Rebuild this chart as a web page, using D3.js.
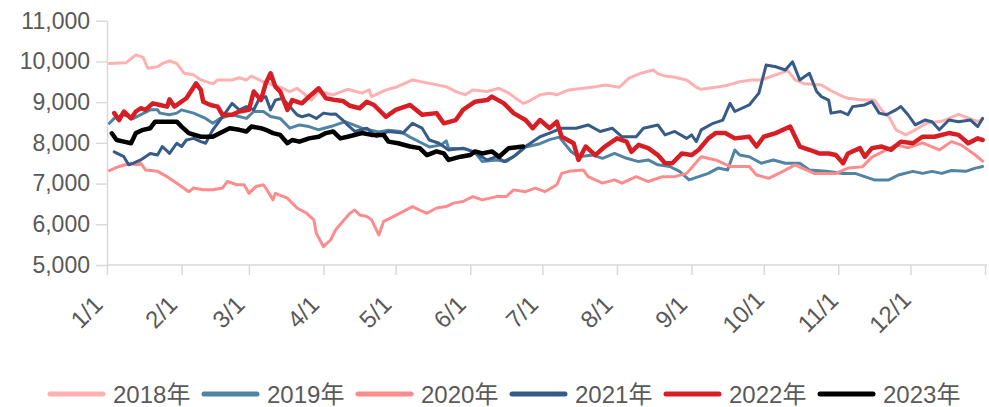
<!DOCTYPE html>
<html>
<head>
<meta charset="utf-8">
<script src="https://cdn.jsdelivr.net/npm/d3@7"></script>
<style>
  html, body { margin: 0; padding: 0; background: #fff; }
  svg { display: block; }
  text { font-family: "Liberation Sans", "Noto Sans CJK SC", sans-serif; fill: #595959; }
</style>
</head>
<body>
<svg id="chart" width="989" height="407"></svg>
<script>
// Daily price series, one per year: [day of year (0 = Jan 1), value]
const series2018 = [[1,9950],[8,9970],[12,10160],[15,10100],[17,9830],[21,9870],[23,9950],[26,10010],[29,9950],[32,9710],[36,9670],[39,9545],[44,9450],[46,9545],[52,9545],[55,9600],[58,9545],[60,9640],[65,9500],[73,9340],[76,9260],[79,9340],[82,9200],[85,9050],[88,9260],[94,9180],[100,9315],[106,9220],[109,9300],[110,9135],[116,9300],[120,9365],[127,9545],[134,9460],[141,9380],[145,9260],[149,9180],[152,9300],[158,9260],[163,9340],[167,9220],[173,8970],[175,9010],[180,9180],[184,9220],[187,9180],[192,9300],[198,9340],[203,9380],[207,9420],[213,9365],[217,9590],[222,9710],[227,9790],[229,9700],[232,9640],[236,9610],[241,9545],[245,9365],[247,9315],[253,9365],[257,9400],[263,9500],[268,9545],[272,9545],[283,9775],[286,9545],[290,9450],[297,9420],[301,9280],[306,9135],[308,9095],[314,9050],[319,9050],[322,8810],[325,8645],[328,8320],[332,8195],[336,8320],[341,8490],[347,8530],[354,8700],[358,8610],[362,8520],[364,8600]];
const series2019 = [[1,8480],[3,8600],[7,8690],[11,8600],[14,8690],[18,8810],[21,8810],[22,8730],[26,8690],[29,8730],[31,8810],[36,8730],[41,8600],[44,8480],[47,8600],[52,8690],[58,8600],[61,8770],[65,8770],[68,8645],[72,8600],[76,8360],[80,8440],[84,8400],[88,8320],[93,8400],[99,8520],[106,8360],[113,8270],[117,8310],[122,8280],[126,8140],[130,8020],[134,7900],[139,7950],[141,8050],[142,7870],[149,7850],[153,7760],[156,7540],[162,7580],[166,7540],[170,7700],[174,7900],[180,7980],[184,8080],[188,8140],[193,7780],[196,7660],[202,7700],[206,7620],[211,7740],[216,7620],[221,7540],[225,7580],[229,7460],[234,7420],[238,7300],[242,7090],[246,7170],[250,7250],[254,7380],[258,7335],[261,7826],[263,7700],[267,7660],[272,7500],[277,7580],[282,7500],[288,7500],[292,7335],[299,7300],[306,7250],[311,7250],[315,7170],[319,7090],[325,7090],[329,7210],[335,7300],[339,7250],[343,7300],[347,7250],[351,7320],[357,7300],[361,7380],[364,7420]];
const series2020 = [[1,7320],[5,7420],[10,7500],[12,7460],[14,7500],[16,7335],[21,7300],[25,7170],[29,7010],[34,6800],[36,6890],[40,6850],[44,6850],[48,6890],[50,7050],[54,6970],[57,6970],[59,6760],[62,6930],[65,6970],[66,6890],[69,6600],[70,6760],[75,6640],[77,6520],[79,6400],[83,6270],[86,6110],[87,5780],[90,5450],[93,5620],[95,5860],[98,6070],[101,6270],[103,6350],[105,6230],[108,6190],[110,6110],[113,5740],[115,6070],[119,6190],[123,6310],[127,6435],[130,6350],[133,6270],[137,6400],[141,6435],[144,6520],[148,6560],[152,6680],[156,6600],[162,6680],[166,6680],[169,6845],[174,6800],[178,6890],[182,6800],[187,6970],[189,7250],[192,7300],[198,7335],[200,7170],[206,7010],[211,7090],[214,7010],[220,7170],[225,7050],[231,7170],[236,7170],[241,7250],[247,7660],[253,7580],[259,7420],[263,7420],[267,7420],[270,7210],[275,7130],[281,7300],[286,7460],[289,7380],[294,7250],[303,7250],[308,7380],[314,7410],[318,7650],[324,7827],[328,7950],[333,7880],[339,8000],[346,7827],[351,8030],[355,7950],[361,7700],[364,7550]];
const series2021 = [[3,7780],[7,7660],[9,7460],[11,7500],[14,7580],[16,7660],[18,7740],[21,7700],[23,7910],[26,7740],[29,7990],[31,7910],[33,8070],[36,8110],[39,8030],[41,7990],[44,8320],[48,8640],[52,8970],[55,8810],[58,8890],[61,8810],[63,9050],[66,9135],[68,8810],[70,9050],[73,9095],[76,8890],[79,8690],[81,8640],[84,8690],[87,8600],[90,8730],[93,8700],[95,8710],[98,8560],[100,8440],[103,8280],[108,8360],[112,8150],[117,8280],[123,8240],[127,8480],[131,8360],[134,8070],[138,7990],[142,7826],[148,7870],[152,7790],[158,7580],[162,7660],[165,7540],[169,7660],[174,7910],[180,8150],[184,8240],[189,8360],[195,8360],[200,8440],[205,8280],[210,8360],[214,8150],[220,8150],[223,8360],[229,8440],[232,8195],[236,8280],[241,8110],[243,8195],[245,8030],[247,8320],[252,8480],[256,8560],[259,8970],[261,8770],[267,8930],[271,9220],[274,9910],[278,9870],[282,9790],[285,9990],[288,9545],[292,9710],[295,9260],[297,9135],[300,9050],[301,8730],[305,8770],[308,8690],[310,8890],[315,8930],[318,9010],[321,8730],[324,8690],[328,8810],[330,8890],[333,8690],[336,8440],[340,8560],[343,8520],[346,8320],[350,8560],[354,8520],[359,8560],[362,8400],[364,8600]];
const series2022 = [[3,8730],[5,8560],[7,8770],[10,8600],[12,8770],[14,8850],[16,8810],[19,8970],[22,8930],[25,8890],[26,9070],[28,8890],[33,9095],[37,9460],[39,9300],[40,9010],[43,8930],[46,8890],[48,8690],[52,8690],[55,8770],[59,8810],[61,9260],[64,9050],[66,9460],[68,9710],[70,9380],[72,9260],[75,8810],[77,9050],[81,8970],[84,9135],[88,9340],[91,9095],[95,9050],[98,9030],[101,8910],[105,8850],[108,9010],[111,8930],[116,8640],[120,8810],[126,8930],[131,8690],[137,8730],[140,8480],[145,8560],[148,8810],[153,9010],[158,9050],[160,9135],[165,8970],[169,8730],[174,8560],[177,8360],[180,8560],[184,8360],[187,8520],[189,8150],[194,7990],[196,7580],[199,7910],[203,7700],[207,7910],[212,8110],[216,8030],[218,7780],[221,7950],[225,7870],[229,7700],[232,7500],[235,7500],[239,7740],[243,7700],[246,7830],[250,8110],[253,8240],[257,8240],[261,8110],[267,8150],[270,7910],[273,8150],[278,8240],[284,8400],[288,7910],[292,7830],[296,7740],[300,7740],[303,7700],[306,7500],[308,7740],[313,7870],[315,7660],[318,7870],[322,7910],[326,7830],[330,8030],[335,7990],[339,8150],[344,8150],[350,8240],[354,8195],[358,7990],[362,8110],[364,8070]];
const series2023 = [[2,8235],[4,8070],[7,8030],[10,7990],[12,8240],[15,8320],[18,8360],[20,8520],[25,8520],[29,8520],[31,8400],[34,8240],[39,8150],[44,8150],[47,8240],[51,8360],[55,8320],[58,8280],[60,8400],[64,8360],[66,8320],[69,8240],[72,8195],[75,7990],[77,8070],[80,8030],[84,8110],[88,8150],[91,8240],[94,8280],[97,8110],[100,8150],[106,8240],[110,8195],[115,8195],[117,8030],[121,7990],[126,7910],[130,7870],[133,7700],[137,7790],[140,7740],[142,7580],[147,7660],[151,7700],[153,7790],[156,7740],[160,7790],[163,7660],[167,7870],[173,7910]];

const seriesNames = ["2018年", "2019年", "2020年", "2021年", "2022年", "2023年"];
const seriesColors = ["#ffb0b0", "#5183a3", "#ff8c8c", "#365b89", "#d81e25", "#000000"];
const seriesWidths = [3, 3, 3, 3, 4.5, 4.5];
const yTicks = [5000, 6000, 7000, 8000, 9000, 10000, 11000];
const monthLabels = ["1/1", "2/1", "3/1", "4/1", "5/1", "6/1", "7/1", "8/1", "9/1", "10/1", "11/1", "12/1"];

const allSeries = [series2018, series2019, series2020, series2021, series2022, series2023];

const svg = d3.select("#chart");
const plot = { left: 107, right: 985, top: 20.7, bottom: 265 };

// Every year is laid onto one common calendar year
const yearStart = new Date(2001, 0, 1);
const yearEnd = new Date(2002, 0, 1);
const toDate = d => new Date(yearStart.getTime() + d * 864e5);

const x = d3.scaleTime().domain([yearStart, yearEnd]).range([plot.left, plot.right]);
const y = d3.scaleLinear().domain([5000, 11000]).range([plot.bottom, plot.top]);

const axisColor = "#d9d9d9";
const fontStack = '"Liberation Sans", "Noto Sans CJK SC", sans-serif';

// Y axis
const yAxis = svg.append("g")
  .attr("transform", `translate(${plot.left},0)`)
  .call(d3.axisLeft(y).tickValues(yTicks).tickFormat(d3.format(",")).tickSize(11).tickSizeOuter(0).tickPadding(6));
yAxis.select(".domain").attr("stroke", axisColor).attr("stroke-width", 1.5);
yAxis.selectAll(".tick line").attr("stroke", axisColor).attr("stroke-width", 1.5);
yAxis.selectAll(".tick text").attr("font-size", 23).attr("fill", "#595959")
  .style("font-family", fontStack);

// X axis: month starts plus the closing tick at year end
const monthStarts = d3.timeMonth.range(yearStart, yearEnd);
const xTickValues = monthStarts.concat([yearEnd]);
const xAxis = svg.append("g")
  .attr("transform", `translate(0,${plot.bottom})`)
  .call(d3.axisBottom(x).tickValues(xTickValues).tickSize(10).tickSizeOuter(0)
    .tickFormat((d, i) => i < monthLabels.length ? monthLabels[i] : ""));
xAxis.select(".domain").remove();
xAxis.append("line").attr("x1", plot.left).attr("x2", 987).attr("y1", 0).attr("y2", 0)
  .attr("stroke", axisColor).attr("stroke-width", 1.5);
xAxis.selectAll(".tick line").attr("stroke", axisColor).attr("stroke-width", 1.5);
xAxis.selectAll(".tick text")
  .attr("font-size", 24).attr("fill", "#595959")
  .style("font-family", fontStack)
  .attr("x", 0).attr("y", 0).attr("dy", "0.35em")
  .attr("text-anchor", "middle")
  .attr("transform", "translate(-21,47) rotate(-45)");

// Lines
const line = d3.line()
  .x(d => x(toDate(d[0])))
  .y(d => y(d[1]));

svg.append("g").selectAll("path")
  .data(allSeries)
  .join("path")
  .attr("d", line)
  .attr("fill", "none")
  .attr("stroke", (d, i) => seriesColors[i])
  .attr("stroke-width", (d, i) => seriesWidths[i])
  .attr("stroke-linejoin", "round")
  .attr("stroke-linecap", "round");

// Legend
const legend = svg.append("g").attr("transform", "translate(48,394)");
const item = legend.selectAll("g")
  .data(seriesNames)
  .join("g")
  .attr("transform", (d, i) => `translate(${i * 154},0)`);
item.append("line")
  .attr("x1", 2).attr("x2", 55).attr("y1", 0).attr("y2", 0)
  .attr("stroke", (d, i) => seriesColors[i])
  .attr("stroke-width", 5)
  .attr("stroke-linecap", "round");
item.append("text")
  .attr("x", 65).attr("y", 0).attr("dy", "0.36em")
  .attr("font-size", 24)
  .text(d => d);
</script>
</body>
</html>
